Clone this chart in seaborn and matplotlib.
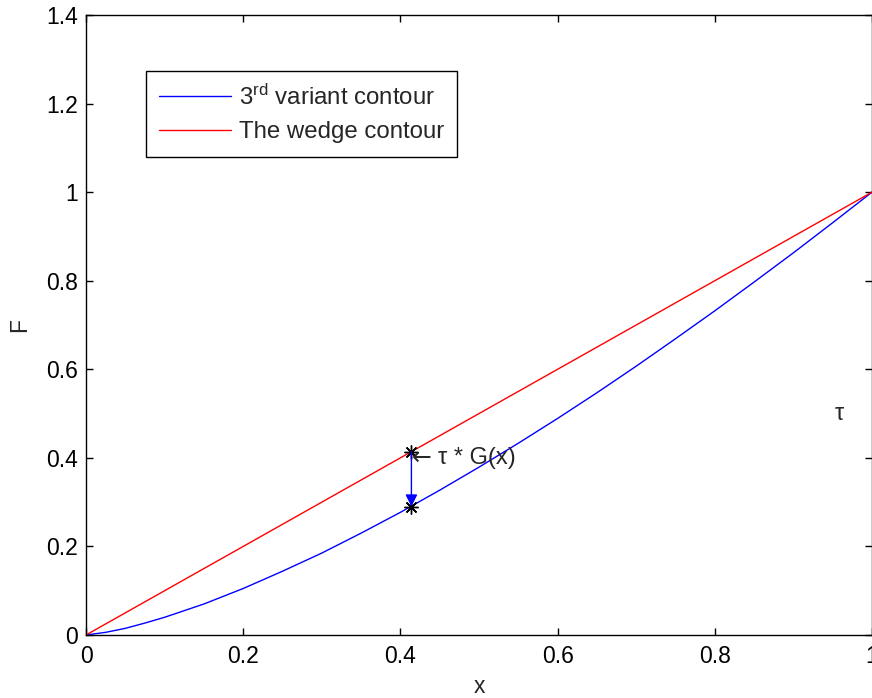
import matplotlib
matplotlib.use("Agg")
import matplotlib.pyplot as plt
import pandas as pd
import seaborn as sns

# Curve samples
x_vals = [0.000, 0.025, 0.050, 0.075, 0.10, 0.15, 0.20, 0.25, 0.30, 0.35, 0.40, 0.45, 0.50,
          0.55, 0.60, 0.65, 0.70, 0.75, 0.80, 0.85, 0.90, 0.95, 1.00]
variant_F = [0.000, 0.006, 0.015, 0.027, 0.040, 0.070, 0.105, 0.144, 0.185, 0.230, 0.277,
             0.327, 0.379, 0.433, 0.489, 0.547, 0.607, 0.669, 0.732, 0.797, 0.863, 0.931, 1.000]
wedge_x = [0.0, 1.0]
wedge_F = [0.0, 1.0]

# Marked gap between the two contours
gap_x = 0.414
gap_top = 0.414
gap_bottom = 0.29

x_ticks = [0, 0.2, 0.4, 0.6, 0.8, 1.0]
x_tick_labels = ["0", "0.2", "0.4", "0.6", "0.8", "1"]
y_ticks = [0, 0.2, 0.4, 0.6, 0.8, 1.0, 1.2, 1.4]
y_tick_labels = ["0", "0.2", "0.4", "0.6", "0.8", "1", "1.2", "1.4"]

variant_label = r"3$^{\mathrm{rd}}$ variant contour"
wedge_label = "The wedge contour"

sns.set_style("ticks")
plt.rcParams["font.family"] = ["Liberation Sans", "DejaVu Sans"]
plt.rcParams["mathtext.fontset"] = "custom"
plt.rcParams["mathtext.rm"] = "Liberation Sans"
plt.rcParams["mathtext.it"] = "Liberation Sans:italic"

FS = 16.5
FS_LEG = 17.3

df = pd.concat([
    pd.DataFrame({"x": x_vals, "F": variant_F, "contour": variant_label}),
    pd.DataFrame({"x": wedge_x, "F": wedge_F, "contour": wedge_label}),
], ignore_index=True)

fig = plt.figure(figsize=(8.72, 6.98), dpi=100)
ax = fig.add_axes([86 / 872, 63 / 698, 786 / 872, 620 / 698])

sns.lineplot(data=df, x="x", y="F", hue="contour",
             palette={variant_label: "#0000ff", wedge_label: "#ff0000"},
             estimator=None, sort=False, lw=1.0, ax=ax)

# Stars at both ends of the gap and the arrow between them
ax.annotate("", xy=(gap_x, gap_bottom), xytext=(gap_x, gap_top),
            arrowprops=dict(arrowstyle="-|>,head_length=0.4,head_width=0.2",
                            color="#0000ff", lw=1.0, mutation_scale=18,
                            shrinkA=0, shrinkB=0))
ax.plot([gap_x, gap_x], [gap_top, gap_bottom], linestyle="none",
        marker=(8, 2, 0), markersize=10, markeredgewidth=1.0, color="black")

# Pointer text: long arrow glyph followed by the label
ax.text(gap_x, 0.40, "\u2190", fontsize=17, ha="left", va="center",
        family=["DejaVu Sans"])
ax.annotate("\u03c4 * G(x)", xy=(gap_x, 0.40), xytext=(19.5, 0),
            textcoords="offset points", fontsize=17, ha="left", va="center")
ax.text(0.952, 0.50, "\u03c4", fontsize=17, ha="left", va="center")

ax.set_xlim(0, 1)
ax.set_ylim(0, 1.4)
ax.set_xticks(x_ticks)
ax.set_xticklabels(x_tick_labels)
ax.set_yticks(y_ticks)
ax.set_yticklabels(y_tick_labels)
ax.tick_params(direction="in", length=5, width=1.0, labelsize=FS,
               top=True, right=True, colors="black")
ax.tick_params(axis="x", pad=7)
ax.tick_params(axis="y", pad=6)
for s in ax.spines.values():
    s.set_visible(True)
    s.set_color("black")
    s.set_linewidth(1.0)

ax.set_xlabel("x", fontsize=FS, labelpad=5)
ax.set_ylabel("F", fontsize=FS, labelpad=10.5)

handles, labels = ax.get_legend_handles_labels()
leg = ax.legend(handles, labels, loc="upper left", bbox_to_anchor=(0.0764, 0.9097),
                borderaxespad=0, fontsize=FS_LEG, frameon=True, fancybox=False,
                framealpha=1, edgecolor="black", handlelength=3.0,
                handletextpad=0.3, borderpad=0.55, labelspacing=0.5)
leg.get_frame().set_linewidth(1.0)

fig.savefig("out.png", dpi=100)
